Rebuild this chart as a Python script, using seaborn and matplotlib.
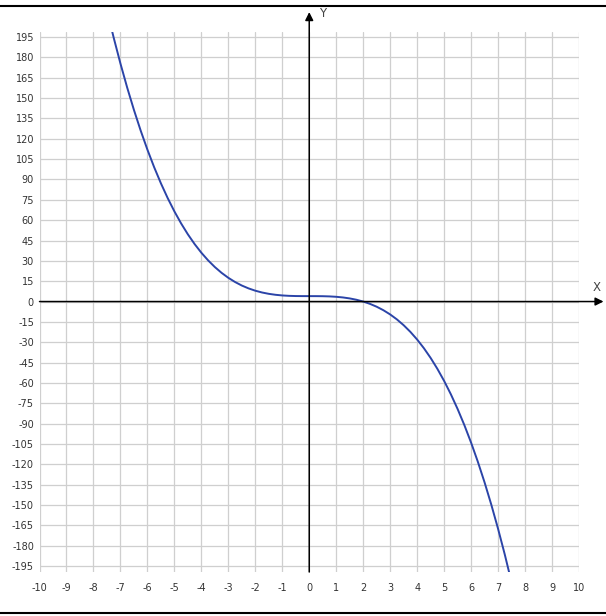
import matplotlib
matplotlib.use("Agg")
import matplotlib.pyplot as plt
import seaborn as sns
import pandas as pd
import numpy as np
from matplotlib.lines import Line2D

# Curve points
x_vals = [-7.5, -7.25, -7.0, -6.75, -6.5, -6.25, -6.0, -5.75, -5.5, -5.25, -5.0,
          -4.75, -4.5, -4.25, -4.0, -3.75, -3.5, -3.25, -3.0, -2.75, -2.5,
          -2.25, -2.0, -1.75, -1.5, -1.25, -1.0, -0.75, -0.5, -0.25, 0.0,
          0.25, 0.5, 0.75, 1.0, 1.25, 1.5, 1.75, 2.0, 2.25, 2.5,
          2.75, 3.0, 3.25, 3.5, 3.75, 4.0, 4.25, 4.5, 4.75, 5.0,
          5.25, 5.5, 5.75, 6.0, 6.25, 6.5, 6.75, 7.0, 7.25, 7.5]
y_vals = [214.94, 194.54, 175.5, 157.77, 141.31, 126.07, 112.0, 99.05, 87.19, 76.35, 66.5,
          57.59, 49.56, 42.38, 36.0, 30.37, 25.44, 21.16, 17.5, 14.40, 11.81,
          9.70, 8.0, 6.68, 5.69, 4.98, 4.5, 4.21, 4.06, 4.01, 4.0,
          3.99, 3.94, 3.79, 3.5, 3.02, 2.31, 1.32, 0.0, -1.70, -3.81,
          -6.40, -9.5, -13.16, -17.44, -22.37, -28.0, -34.38, -41.56, -49.59, -58.5,
          -68.35, -79.19, -91.05, -104.0, -118.07, -133.31, -149.77, -167.5, -186.54, -206.94]

x_ticks = list(range(-10, 11))
y_ticks = list(range(-195, 196, 15))

sns.set_style("white")
plt.rcParams['font.family'] = ['DejaVu Sans']

fig = plt.figure(figsize=(6.06, 6.16), dpi=100)
ax = fig.add_axes([0.0652, 0.0714, 0.8902, 0.8766])

df = pd.DataFrame({"x": x_vals, "y": y_vals})
sns.lineplot(data=df, x="x", y="y", ax=ax, color="#2b44a8", linewidth=1.4, sort=False)

ax.set_xlim(-10, 10)
ax.set_ylim(-199.4, 198.7)
ax.set_xticks(x_ticks)
ax.set_yticks(y_ticks)
ax.set_xticklabels([str(t) for t in x_ticks])
ax.set_yticklabels([str(t) for t in y_ticks])
ax.tick_params(axis='both', length=0, labelsize=7, labelcolor='#333333')
ax.tick_params(axis='y', pad=4)
ax.tick_params(axis='x', pad=8)
ax.grid(True, color='#cfcfcf', linewidth=0.9)
for s in ax.spines.values():
    s.set_visible(False)
ax.set_xlabel("")
ax.set_ylabel("")

# Coordinate axes with arrows
ax.annotate('', xy=(10.91, 0), xytext=(-10, 0),
            arrowprops=dict(arrowstyle='-|>', color='black', lw=1.1,
                            mutation_scale=12, shrinkA=0, shrinkB=0),
            annotation_clip=False)
ax.annotate('', xy=(0, 213.4), xytext=(0, -199.4),
            arrowprops=dict(arrowstyle='-|>', color='black', lw=1.1,
                            mutation_scale=12, shrinkA=0, shrinkB=0),
            annotation_clip=False)
ax.text(10.65, 10.7, "X", fontsize=8.5, color='#444444', ha='center', va='center', clip_on=False)
ax.text(0.5, 212.7, "Y", fontsize=8.5, color='#444444', ha='center', va='center', clip_on=False)

# Frame lines at top and bottom of the figure
fig.add_artist(Line2D([0, 1], [1 - 6 / 616, 1 - 6 / 616], transform=fig.transFigure,
                      color='black', linewidth=1.5))
fig.add_artist(Line2D([0, 1], [1 - 613 / 616, 1 - 613 / 616], transform=fig.transFigure,
                      color='black', linewidth=1.5))

fig.savefig("out.png", dpi=100)
